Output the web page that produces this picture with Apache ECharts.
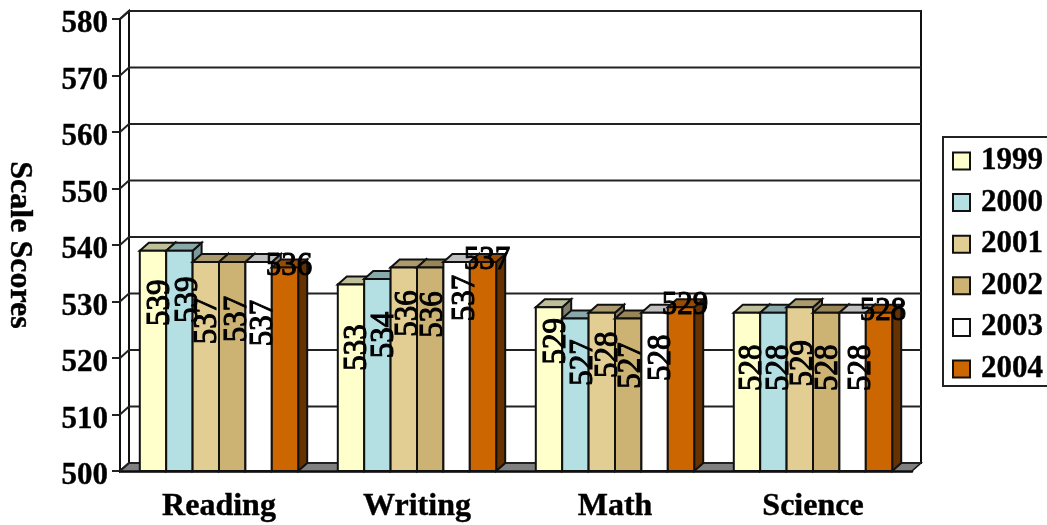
<!DOCTYPE html>
<html>
<head>
<meta charset="utf-8">
<style>html,body{margin:0;padding:0;background:#fff;overflow:hidden}#c{width:1047px;height:525px}</style>
<script src="https://cdn.jsdelivr.net/npm/echarts@6/dist/echarts.min.js"></script>
</head>
<body>
<div id="c"></div>
<script>
// Scale scores by subject and year
const categories = ['Reading', 'Writing', 'Math', 'Science'];
const years = ['1999', '2000', '2001', '2002', '2003', '2004'];
const scores1999 = [539, 533, 529, 528];
const scores2000 = [539, 534, 527, 528];
const scores2001 = [537, 536, 528, 529];
const scores2002 = [537, 536, 527, 528];
const scores2003 = [537, 537, 528, 528];
const scores2004 = [536, 537, 529, 528];
const yTicks = [500, 510, 520, 530, 540, 550, 560, 570, 580];

// Bar appearance
const fills = ['#FFFFCC', '#B5E0E3', '#E2CE92', '#CCB374', '#FFFFFF', '#CC6600'];
const tops = ['#BFBF99', '#88A8AA', '#AA9A6E', '#998657', '#C0C0C0', '#994C00'];
const sides = ['#80806A', '#7B9A9D', '#8A7D59', '#806F48', '#808080', '#663300'];
const seriesValues = [scores1999, scores2000, scores2001, scores2002, scores2003, scores2004];

// Upright value labels: distance below the bar top and sideways shift, by subject then year
const labelDrop = [
  [52, 49, 59, 57, 61],
  [63, 56, 46, 47, 36],
  [34, 44, 42, 47, 45],
  [55, 55, 56, 55, 55]
];
const labelShift = [
  [3.5, 5, -2, 2, 1],
  [3, 3, 1, 0, 5],
  [3.5, 4, 3, 0, 3],
  [2, 2, 0, -1, 5]
];

const DEPTH_X = 9, DEPTH_Y = -8;
const SERIF = '"Liberation Serif","Times New Roman",serif';
const LINE = '#111';
const HEAVY = { textBorderColor: '#000', textBorderWidth: 0.4 };

function valueLabel(val, x, y, upright) {
  return { type: 'text', z2: 100, x: x, y: y, rotation: upright ? Math.PI / 2 : 0, scaleY: 1.12,
    style: { text: String(val), x: 0, y: 0, align: 'center', verticalAlign: 'middle',
             font: '31px ' + SERIF, fill: '#000', stroke: '#000', lineWidth: 1 } };
}

function renderBar(yearIndex) {
  return function (params, api) {
    const cat = api.value(0);
    const val = api.value(1);
    const slot = api.size([1, 0])[0];
    const w = slot * 0.8 / years.length;
    const c = api.coord([cat, val]);
    const base = api.coord([cat, 500]);
    const x0 = c[0] - slot * 0.4 + yearIndex * w;
    const x1 = x0 + w;
    const y0 = c[1], y1 = base[1];
    const stroke = { stroke: LINE, lineWidth: 2 };
    const children = [
      { type: 'polygon', shape: { points: [[x1, y0], [x1 + DEPTH_X, y0 + DEPTH_Y], [x1 + DEPTH_X, y1 + DEPTH_Y], [x1, y1]] },
        style: Object.assign({ fill: sides[yearIndex] }, stroke) },
      { type: 'polygon', shape: { points: [[x0, y0], [x0 + DEPTH_X, y0 + DEPTH_Y], [x1 + DEPTH_X, y0 + DEPTH_Y], [x1, y0]] },
        style: Object.assign({ fill: tops[yearIndex] }, stroke) },
      { type: 'rect', shape: { x: x0, y: y0, width: w, height: y1 - y0 },
        style: Object.assign({ fill: fills[yearIndex] }, stroke) }
    ];
    const mid = x0 + w / 2;
    if (yearIndex === years.length - 1) {
      children.push(valueLabel(val, mid + 4, y0 - 2, false));
    } else {
      children.push(valueLabel(val, mid + labelShift[cat][yearIndex] + 3, y0 + labelDrop[cat][yearIndex], true));
    }
    return { type: 'group', children: children };
  };
}

// Back wall, side wall, floor and the gridlines carried across them
function renderWalls(params, api) {
  const sys = params.coordSys;
  const v = api.value(0);
  const y = api.coord([0, v])[1];
  const left = sys.x, right = sys.x + sys.width;
  const children = [];
  if (params.dataIndex === 0) {
    const top = sys.y, bottom = sys.y + sys.height;
    children.push(
      { type: 'rect', shape: { x: left + DEPTH_X, y: top + DEPTH_Y, width: sys.width, height: sys.height },
        style: { fill: '#fff', stroke: LINE, lineWidth: 2 } },
      { type: 'polygon', shape: { points: [[left, bottom], [left + DEPTH_X, bottom + DEPTH_Y], [left + DEPTH_X, top + DEPTH_Y], [left, top]] },
        style: { fill: '#fff', stroke: LINE, lineWidth: 2 } },
      { type: 'polygon', shape: { points: [[left, bottom], [left + DEPTH_X, bottom + DEPTH_Y], [right + DEPTH_X, bottom + DEPTH_Y], [right, bottom]] },
        style: { fill: '#808080', stroke: LINE, lineWidth: 1.5 } }
    );
  }
  children.push(
    { type: 'line', shape: { x1: left + DEPTH_X, y1: y + DEPTH_Y, x2: right + DEPTH_X, y2: y + DEPTH_Y },
      style: { stroke: '#222', lineWidth: 2 } },
    { type: 'line', shape: { x1: left, y1: y, x2: left + DEPTH_X, y2: y + DEPTH_Y },
      style: { stroke: '#222', lineWidth: 2 } }
  );
  return { type: 'group', children: children };
}

const chart = echarts.init(document.getElementById('c'), null, { renderer: 'canvas' });
const series = [{
  type: 'custom', name: 'walls', z: 1, silent: true,
  coordinateSystem: 'cartesian2d', renderItem: renderWalls,
  data: yTicks.map(v => [v]), encode: { y: 0 }
}].concat(years.map((year, i) => ({
  type: 'custom', name: year, z: 2, silent: true,
  coordinateSystem: 'cartesian2d', renderItem: renderBar(i),
  itemStyle: { color: fills[i], borderColor: LINE, borderWidth: 1.5 },
  data: seriesValues[i].map((v, c) => [c, v]), encode: { x: 0, y: 1 }
})));

chart.setOption({
  animation: false,
  backgroundColor: '#fff',
  grid: { left: 120, top: 19, width: 792, height: 452, outerBoundsMode: 'none' },
  legend: {
    data: years, orient: 'vertical', left: 943, top: 137,
    padding: [7, 10, 0, 9],
    icon: 'rect', itemWidth: 17, itemHeight: 17, itemGap: 7.6,
    backgroundColor: '#fff', borderColor: '#222', borderWidth: 2, borderRadius: 0,
    selectedMode: false,
    textStyle: Object.assign({ fontFamily: SERIF, fontWeight: 'bold', fontSize: 31, color: '#000', lineHeight: 34, padding: [0, 0, 0, 6] }, HEAVY)
  },
  xAxis: {
    type: 'category', data: categories,
    axisLine: { lineStyle: { color: '#000', width: 2.5 } },
    axisTick: { alignWithLabel: false, length: 8, lineStyle: { color: '#222', width: 2 } },
    axisLabel: Object.assign({ fontFamily: SERIF, fontWeight: 'bold', fontSize: 32, color: '#000', margin: 20 }, HEAVY),
    splitLine: { show: false }
  },
  yAxis: {
    type: 'value', min: 500, max: 580, interval: 10,
    name: 'Scale Scores', nameLocation: 'middle', nameRotate: -90, nameGap: 85,
    nameTextStyle: Object.assign({ fontFamily: SERIF, fontWeight: 'bold', fontSize: 32, color: '#000' }, HEAVY),
    axisLine: { show: true, lineStyle: { color: '#222', width: 2 } },
    axisTick: { show: true, length: 8, lineStyle: { color: '#222', width: 2 } },
    axisLabel: Object.assign({ fontFamily: SERIF, fontWeight: 'bold', fontSize: 31, color: '#000', margin: 12, verticalAlign: 'top', lineHeight: 10 }, HEAVY),
    splitLine: { show: false }
  },
  series: series
});
</script>
</body>
</html>
